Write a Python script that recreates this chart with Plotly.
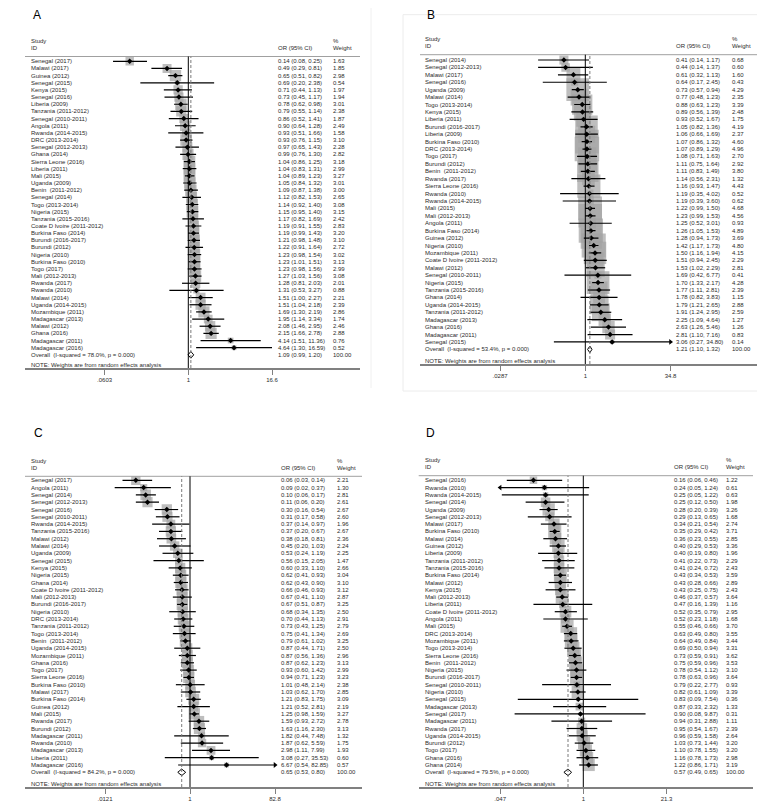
import numpy as np
import plotly.graph_objects as go

W, H = 765, 811
FONT = "Liberation Sans, Arial, Helvetica, sans-serif"
TXT = "#2b2b2b"
BOX = "#a3a3a3"

# ---------------- Panel A ----------------
studies_A = ["Senegal (2017)", "Malawi (2017)", "Guinea (2012)", "Senegal (2015)", "Kenya (2015)",
             "Senegal (2016)", "Liberia (2009)", "Tanzania (2011-2012)", "Senegal (2010-2011)", "Angola (2011)",
             "Rwanda (2014-2015)", "DRC (2013-2014)", "Senegal (2012-2013)", "Ghana (2014)", "Sierra Leone (2016)",
             "Liberia (2011)", "Mali (2015)", "Uganda (2009)", "Benin  (2011-2012)", "Senegal (2014)",
             "Togo (2013-2014)", "Nigeria (2015)", "Tanzania (2015-2016)", "Coate D Ivoire (2011-2012)", "Burkina Faso (2014)",
             "Burundi (2016-2017)", "Burundi (2012)", "Nigeria (2010)", "Burkina Faso (2010)", "Togo (2017)",
             "Mali (2012-2013)", "Rwanda (2017)", "Rwanda (2010)", "Malawi (2014)", "Uganda (2014-2015)",
             "Mozambique (2011)", "Madagascar (2013)", "Malawi (2012)", "Ghana (2016)", "Madagascar (2011)",
             "Madagascar (2016)"]
or_A = [0.14, 0.49, 0.65, 0.69, 0.71, 0.73, 0.78, 0.79, 0.86, 0.90, 0.93, 0.93, 0.97, 0.99, 1.04, 1.04, 1.04,
        1.05, 1.09, 1.12, 1.14, 1.15, 1.17, 1.19, 1.19, 1.21, 1.22, 1.23, 1.23, 1.23, 1.27, 1.28, 1.31, 1.51,
        1.51, 1.69, 1.95, 2.08, 2.15, 4.14, 4.64]
lo_A = [0.08, 0.29, 0.51, 0.20, 0.44, 0.45, 0.62, 0.55, 0.52, 0.64, 0.51, 0.76, 0.65, 0.76, 0.86, 0.83, 0.89,
        0.84, 0.87, 0.82, 0.92, 0.95, 0.82, 0.91, 0.99, 0.98, 0.91, 0.98, 1.01, 0.98, 1.03, 0.81, 0.53, 1.00,
        1.04, 1.30, 1.14, 1.46, 1.66, 1.51, 1.30]
hi_A = [0.25, 0.81, 0.82, 2.38, 1.13, 1.17, 0.98, 1.14, 1.41, 1.28, 1.66, 1.15, 1.43, 1.30, 1.25, 1.31, 1.23,
        1.32, 1.38, 1.53, 1.40, 1.40, 1.69, 1.55, 1.43, 1.48, 1.64, 1.54, 1.51, 1.56, 1.56, 2.03, 3.27, 2.27,
        2.18, 2.19, 3.34, 2.95, 2.78, 11.36, 16.59]
wt_A = [1.63, 1.85, 2.98, 0.54, 1.97, 1.94, 3.01, 2.38, 1.87, 2.49, 1.58, 3.10, 2.28, 2.82, 3.18, 2.99, 3.27,
        3.01, 3.00, 2.65, 3.08, 3.15, 2.42, 2.83, 3.20, 3.10, 2.72, 3.02, 3.13, 2.99, 3.08, 2.01, 0.88, 2.21,
        2.39, 2.86, 1.74, 2.46, 2.88, 0.76, 0.52]
overall_A = [1.09, 0.99, 1.20]
isq_A = "78.0%"
tickvals_A = [0.0603, 1, 16.6]
ticktext_A = [".0603", "1", "16.6"]

# ---------------- Panel B ----------------
studies_B = ["Senegal (2014)", "Senegal (2012-2013)", "Malawi (2017)", "Senegal (2016)", "Uganda (2009)",
             "Malawi (2014)", "Togo (2013-2014)", "Kenya (2015)", "Liberia (2011)", "Burundi (2016-2017)",
             "Liberia (2009)", "Burkina Faso (2010)", "DRC (2013-2014)", "Togo (2017)", "Burundi (2012)",
             "Benin  (2011-2012)", "Rwanda (2017)", "Sierra Leone (2016)", "Rwanda (2010)", "Rwanda (2014-2015)",
             "Mali (2015)", "Mali (2012-2013)", "Angola (2011)", "Burkina Faso (2014)", "Guinea (2012)",
             "Nigeria (2010)", "Mozambique (2011)", "Coate D Ivoire (2011-2012)", "Malawi (2012)", "Senegal (2010-2011)",
             "Nigeria (2015)", "Tanzania (2015-2016)", "Ghana (2014)", "Uganda (2014-2015)", "Tanzania (2011-2012)",
             "Madagascar (2013)", "Ghana (2016)", "Madagascar (2011)", "Senegal (2015)"]
or_B = [0.41, 0.44, 0.61, 0.64, 0.73, 0.77, 0.88, 0.89, 0.93, 1.05, 1.06, 1.07, 1.07, 1.08, 1.11, 1.11, 1.14,
        1.16, 1.19, 1.19, 1.22, 1.23, 1.25, 1.26, 1.28, 1.42, 1.50, 1.51, 1.53, 1.69, 1.70, 1.77, 1.78, 1.79,
        1.91, 2.25, 2.63, 2.81, 3.06]
lo_B = [0.14, 0.14, 0.32, 0.17, 0.57, 0.48, 0.63, 0.56, 0.52, 0.82, 0.66, 0.86, 0.89, 0.71, 0.75, 0.83, 0.56,
        0.93, 0.35, 0.39, 0.99, 0.99, 0.52, 1.05, 0.94, 1.17, 1.16, 0.94, 1.02, 0.42, 1.33, 1.11, 0.82, 1.21,
        1.24, 1.09, 1.26, 1.10, 0.27]
hi_B = [1.17, 1.37, 1.13, 2.45, 0.94, 1.23, 1.23, 1.39, 1.67, 1.36, 1.69, 1.32, 1.29, 1.63, 1.64, 1.49, 2.31,
        1.47, 4.02, 3.60, 1.50, 1.53, 3.01, 1.53, 1.73, 1.73, 1.94, 2.45, 2.29, 6.77, 2.17, 2.81, 3.83, 2.65,
        2.95, 4.64, 5.46, 7.16, 34.80]
wt_B = [0.68, 0.60, 1.60, 0.43, 4.29, 2.35, 3.39, 2.48, 1.75, 4.19, 2.37, 4.60, 4.96, 2.70, 2.92, 3.80, 1.32,
        4.43, 0.52, 0.62, 4.68, 4.56, 0.93, 4.89, 3.69, 4.80, 4.15, 2.29, 2.81, 0.41, 4.28, 2.39, 1.15, 2.88,
        2.59, 1.27, 1.26, 0.83, 0.14]
overall_B = [1.21, 1.10, 1.32]
isq_B = "53.4%"
tickvals_B = [0.0287, 1, 34.8]
ticktext_B = [".0287", "1", "34.8"]

# ---------------- Panel C ----------------
studies_C = ["Senegal (2017)", "Angola (2011)", "Senegal (2014)", "Senegal (2012-2013)", "Senegal (2016)",
             "Senegal (2010-2011)", "Rwanda (2014-2015)", "Tanzania (2015-2016)", "Malawi (2012)", "Malawi (2014)",
             "Uganda (2009)", "Senegal (2015)", "Kenya (2015)", "Nigeria (2015)", "Ghana (2014)",
             "Coate D Ivoire (2011-2012)", "Mali (2012-2013)", "Burundi (2016-2017)", "Nigeria (2010)", "DRC (2013-2014)",
             "Tanzania (2011-2012)", "Togo (2013-2014)", "Benin  (2011-2012)", "Uganda (2014-2015)", "Mozambique (2011)",
             "Ghana (2016)", "Togo (2017)", "Sierra Leone (2016)", "Burkina Faso (2010)", "Malawi (2017)",
             "Burkina Faso (2014)", "Guinea (2012)", "Mali (2015)", "Rwanda (2017)", "Burundi (2012)",
             "Madagascar (2011)", "Rwanda (2010)", "Madagascar (2013)", "Liberia (2011)", "Madagascar (2016)"]
or_C = [0.06, 0.09, 0.10, 0.11, 0.30, 0.31, 0.37, 0.37, 0.38, 0.45, 0.53, 0.56, 0.60, 0.62, 0.62, 0.66, 0.67,
        0.67, 0.68, 0.70, 0.73, 0.75, 0.79, 0.87, 0.87, 0.87, 0.93, 0.94, 1.01, 1.03, 1.21, 1.21, 1.25, 1.59,
        1.63, 1.82, 1.87, 2.98, 3.08, 6.67]
lo_C = [0.03, 0.02, 0.06, 0.06, 0.16, 0.17, 0.14, 0.20, 0.18, 0.20, 0.24, 0.15, 0.33, 0.41, 0.43, 0.46, 0.41,
        0.51, 0.34, 0.44, 0.43, 0.41, 0.61, 0.44, 0.56, 0.62, 0.60, 0.71, 0.48, 0.62, 0.83, 0.52, 0.98, 0.93,
        1.16, 0.44, 0.62, 1.11, 0.27, 0.54]
hi_C = [0.14, 0.37, 0.17, 0.20, 0.54, 0.58, 0.97, 0.67, 0.81, 1.03, 1.19, 2.05, 1.10, 0.93, 0.90, 0.93, 1.10,
        0.87, 1.35, 1.13, 1.25, 1.34, 1.02, 1.71, 1.36, 1.23, 1.42, 1.23, 2.14, 1.70, 1.75, 2.81, 1.59, 2.72,
        2.30, 7.48, 5.59, 7.99, 35.53, 82.85]
wt_C = [2.21, 1.30, 2.81, 2.61, 2.67, 2.60, 1.96, 2.67, 2.36, 2.24, 2.25, 1.47, 2.66, 3.04, 3.10, 3.12, 2.87,
        3.25, 2.50, 2.91, 2.79, 2.69, 3.25, 2.50, 2.96, 3.13, 2.99, 3.23, 2.38, 2.85, 3.09, 2.19, 3.27, 2.78,
        3.13, 1.32, 1.75, 1.93, 0.60, 0.57]
overall_C = [0.65, 0.53, 0.80]
isq_C = "84.2%"
tickvals_C = [0.0121, 1, 82.8]
ticktext_C = [".0121", "1", "82.8"]

# ---------------- Panel D ----------------
studies_D = ["Senegal (2016)", "Rwanda (2010)", "Rwanda (2014-2015)", "Senegal (2014)", "Uganda (2009)",
             "Senegal (2012-2013)", "Malawi (2017)", "Burkina Faso (2010)", "Malawi (2014)", "Guinea (2012)",
             "Liberia (2009)", "Tanzania (2011-2012)", "Tanzania (2015-2016)", "Burkina Faso (2014)", "Malawi (2012)",
             "Kenya (2015)", "Mali (2012-2013)", "Liberia (2011)", "Coate D Ivoire (2011-2012)", "Angola (2011)",
             "Mali (2015)", "DRC (2013-2014)", "Mozambique (2011)", "Togo (2013-2014)", "Sierra Leone (2016)",
             "Benin  (2011-2012)", "Nigeria (2015)", "Burundi (2016-2017)", "Senegal (2010-2011)", "Nigeria (2010)",
             "Senegal (2015)", "Madagascar (2013)", "Senegal (2017)", "Madagascar (2011)", "Rwanda (2017)",
             "Uganda (2014-2015)", "Burundi (2012)", "Togo (2017)", "Ghana (2016)", "Ghana (2014)"]
or_D = [0.16, 0.24, 0.25, 0.25, 0.28, 0.29, 0.34, 0.35, 0.36, 0.40, 0.40, 0.41, 0.41, 0.43, 0.43, 0.43, 0.46,
        0.47, 0.52, 0.52, 0.55, 0.63, 0.64, 0.69, 0.73, 0.75, 0.78, 0.78, 0.79, 0.82, 0.83, 0.87, 0.90, 0.94,
        0.95, 0.96, 1.03, 1.10, 1.16, 1.22]
lo_D = [0.06, 0.047, 0.05, 0.12, 0.20, 0.13, 0.21, 0.29, 0.23, 0.29, 0.19, 0.22, 0.24, 0.34, 0.28, 0.25, 0.37,
        0.16, 0.35, 0.23, 0.46, 0.49, 0.49, 0.50, 0.59, 0.59, 0.54, 0.63, 0.22, 0.61, 0.09, 0.33, 0.08, 0.31,
        0.54, 0.59, 0.73, 0.78, 0.78, 0.86]
hi_D = [0.46, 1.24, 1.22, 0.50, 0.39, 0.65, 0.54, 0.42, 0.55, 0.53, 0.80, 0.73, 0.72, 0.53, 0.66, 0.75, 0.57,
        1.39, 0.79, 1.18, 0.66, 0.80, 0.84, 0.94, 0.91, 0.96, 1.12, 0.96, 2.77, 1.09, 7.54, 2.32, 9.87, 2.88,
        1.67, 1.58, 1.44, 1.55, 1.73, 1.71]
wt_D = [1.22, 0.61, 0.63, 1.98, 3.26, 1.68, 2.74, 3.71, 2.85, 3.36, 1.96, 2.29, 2.43, 3.59, 2.89, 2.43, 3.64,
        1.16, 2.95, 1.68, 3.70, 3.55, 3.44, 3.31, 3.62, 3.53, 3.10, 3.64, 0.93, 3.39, 0.36, 1.33, 0.31, 1.11,
        2.39, 2.64, 3.20, 3.20, 2.98, 3.19]
overall_D = [0.57, 0.49, 0.65]
isq_D = "79.5%"
tickvals_D = [0.047, 1, 21.3]
ticktext_D = [".047", "1", "21.3"]

# ---------------- layout (pixel geometry per panel) ----------------
panels = [
    dict(letter="A", studies=studies_A, est=or_A, lo=lo_A, hi=hi_A, wt=wt_A, overall=overall_A, isq=isq_A,
         tv=tickvals_A, tt=ticktext_A, letter_xy=(24, 7.5), header_y=48.5, first_y=53.3, step=7.16,
         axis_y=360, xl=17, xr=352, px1=180.3, s=29.8, c_st=22, c_or=269, c_wt=324, k=6.6),
    dict(letter="B", studies=studies_B, est=or_B, lo=lo_B, hi=hi_B, wt=wt_B, overall=overall_B, isq=isq_B,
         tv=tickvals_B, tt=ticktext_B, letter_xy=(418, 7.5), header_y=46.7, first_y=52.0, step=7.42,
         axis_y=356, xl=412, xr=751.7, px1=577.3, s=24.0, c_st=416, c_or=667.3, c_wt=723.3, k=11.0),
    dict(letter="C", studies=studies_C, est=or_C, lo=lo_C, hi=hi_C, wt=wt_C, overall=overall_C, isq=isq_C,
         tv=tickvals_C, tt=ticktext_C, letter_xy=(25, 425), header_y=468.3, first_y=472.3, step=7.3,
         axis_y=779, xl=17, xr=354, px1=182.0, s=19.25, c_st=22, c_or=271.7, c_wt=327.7, k=6.3),
    dict(letter="D", studies=studies_D, est=or_D, lo=lo_D, hi=hi_D, wt=wt_D, overall=overall_D, isq=isq_D,
         tv=tickvals_D, tt=ticktext_D, letter_xy=(417, 425), header_y=467.7, first_y=472.3, step=7.3,
         axis_y=779, xl=410.7, xr=745, px1=575.3, s=27.2, c_st=416, c_or=665, c_wt=717.3, k=6.8),
]

fig = go.Figure()
annotations = []
shapes = []
layout_axes = {}
LN10 = np.log(10)


def px_to_paper_x(px):
    return px / W


def px_to_paper_y(py):
    return 1 - py / H


def txt(x, y, text, yref="paper", size=6, xanchor="left", color=TXT):
    return dict(x=x, y=y, xref="paper", yref=yref, text=text, showarrow=False, xanchor=xanchor,
                yanchor="middle", font=dict(family=FONT, size=size, color=color), borderpad=0)


for i, p in enumerate(panels, start=1):
    suf = "" if i == 1 else str(i)
    xa, ya = "x" + suf, "y" + suf
    n = len(p["studies"])
    rows = np.arange(n)
    est = np.array(p["est"])
    lo = np.array(p["lo"])
    hi = np.array(p["hi"])
    wt = np.array(p["wt"])
    tmin, tmax = p["tv"][0], p["tv"][-1]

    # gray weight boxes
    fig.add_trace(go.Scatter(x=est, y=rows, mode="markers", xaxis=xa, yaxis=ya, hoverinfo="skip",
                             marker=dict(symbol="square", size=p["k"] * np.sqrt(wt), color=BOX,
                                         line=dict(width=0)), showlegend=False))
    # CI lines (clipped at axis limits)
    lo_c = np.clip(lo, tmin, tmax)
    hi_c = np.clip(hi, tmin, tmax)
    xs, ys = [], []
    for r in range(n):
        xs += [lo_c[r], hi_c[r], None]
        ys += [r, r, None]
    fig.add_trace(go.Scatter(x=xs, y=ys, mode="lines", xaxis=xa, yaxis=ya, hoverinfo="skip",
                             line=dict(color="black", width=1.2), showlegend=False))
    # arrows where CI exceeds axis
    right = hi >= tmax - 1e-9
    left = lo <= tmin + 1e-9
    if right.any():
        fig.add_trace(go.Scatter(x=hi_c[right], y=rows[right], mode="markers", xaxis=xa, yaxis=ya,
                                 hoverinfo="skip", marker=dict(symbol="triangle-right", size=5, color="black"),
                                 showlegend=False))
    if left.any():
        fig.add_trace(go.Scatter(x=lo_c[left], y=rows[left], mode="markers", xaxis=xa, yaxis=ya,
                                 hoverinfo="skip", marker=dict(symbol="triangle-left", size=5, color="black"),
                                 showlegend=False))
    # point estimates
    fig.add_trace(go.Scatter(x=est, y=rows, mode="markers", xaxis=xa, yaxis=ya, hoverinfo="skip",
                             marker=dict(symbol="diamond", size=4.2, color="black"), showlegend=False))
    # overall diamond
    oe, ol, oh = p["overall"]
    hh = 3.3 / p["step"]
    fig.add_trace(go.Scatter(x=[ol, oe, oh, oe, ol], y=[n, n - hh, n, n + hh, n], mode="lines",
                             xaxis=xa, yaxis=ya, fill="toself", fillcolor="white", hoverinfo="skip",
                             line=dict(color="black", width=1), showlegend=False))

    # axes geometry
    r_top = (p["header_y"] - p["first_y"]) / p["step"]
    r_bot = (p["axis_y"] - p["first_y"]) / p["step"]
    layout_axes["xaxis" + suf] = dict(
        type="log", domain=[px_to_paper_x(p["xl"]), px_to_paper_x(p["xr"])],
        range=[(p["xl"] - p["px1"]) / p["s"] / LN10, (p["xr"] - p["px1"]) / p["s"] / LN10],
        anchor=ya, showgrid=False, zeroline=False, showline=True, linecolor="#808080", linewidth=1.5,
        ticks="outside", ticklen=5, tickwidth=1, tickcolor="#808080", tickvals=p["tv"], ticktext=p["tt"],
        tickfont=dict(family=FONT, size=6, color=TXT), fixedrange=True)
    layout_axes["yaxis" + suf] = dict(
        domain=[px_to_paper_y(p["axis_y"]), px_to_paper_y(p["header_y"])],
        range=[r_bot, r_top], anchor=xa, visible=False, fixedrange=True)

    # header line, null line, overall dashed line
    shapes.append(dict(type="line", xref=xa + " domain", yref=ya + " domain", x0=0, x1=1, y0=1, y1=1,
                       line=dict(color="#a0a0a0", width=1)))
    shapes.append(dict(type="line", xref=xa, yref=ya + " domain", x0=1, x1=1, y0=0, y1=1,
                       line=dict(color="black", width=1)))
    shapes.append(dict(type="line", xref=xa, yref=ya + " domain", x0=oe, x1=oe, y0=0, y1=1,
                       line=dict(color="#7a7a7a", width=1, dash="3px,2px")))

    # text
    hy = p["header_y"]
    lx, ly = p["letter_xy"]
    annotations.append(txt(px_to_paper_x(lx), px_to_paper_y(ly), p["letter"], size=12, color="black"))
    annotations.append(txt(px_to_paper_x(p["c_st"]), px_to_paper_y(hy - 15.5), "Study"))
    annotations.append(txt(px_to_paper_x(p["c_st"]), px_to_paper_y(hy - 8.5), "ID"))
    annotations.append(txt(px_to_paper_x(p["c_or"]), px_to_paper_y(hy - 8.5), "OR (95% CI)"))
    annotations.append(txt(px_to_paper_x(p["c_wt"]), px_to_paper_y(hy - 15.5), "%"))
    annotations.append(txt(px_to_paper_x(p["c_wt"]), px_to_paper_y(hy - 8.5), "Weight"))
    for r in range(n):
        annotations.append(txt(px_to_paper_x(p["c_st"]), r, p["studies"][r], yref=ya))
        annotations.append(txt(px_to_paper_x(p["c_or"]), r,
                               f"{est[r]:.2f} ({lo[r]:.2f}, {hi[r]:.2f})", yref=ya))
        annotations.append(txt(px_to_paper_x(p["c_wt"]), r, f"{wt[r]:.2f}", yref=ya))
    annotations.append(txt(px_to_paper_x(p["c_st"]), n,
                           f"Overall  (I-squared = {p['isq']}, p = 0.000)", yref=ya))
    annotations.append(txt(px_to_paper_x(p["c_or"]), n, f"{oe:.2f} ({ol:.2f}, {oh:.2f})", yref=ya))
    annotations.append(txt(px_to_paper_x(p["c_wt"]), n, f"{100:.2f}", yref=ya))
    annotations.append(txt(px_to_paper_x(p["c_st"]), px_to_paper_y(p["axis_y"] - 3.2),
                           "NOTE: Weights are from random effects analysis"))

# faint frames around the top panels
shapes.append(dict(type="rect", xref="paper", yref="paper", x0=395 / W, x1=764 / W,
                   y0=px_to_paper_y(383), y1=px_to_paper_y(6.7), line=dict(color="#ececec", width=1)))
shapes.append(dict(type="line", xref="paper", yref="paper", x0=363 / W, x1=363 / W,
                   y0=px_to_paper_y(380), y1=1, line=dict(color="#f0f0f0", width=1)))

fig.update_layout(width=W, height=H, margin=dict(l=0, r=0, t=0, b=0), paper_bgcolor="white",
                  plot_bgcolor="white", showlegend=False, annotations=annotations, shapes=shapes,
                  font=dict(family=FONT, size=6, color=TXT), **layout_axes)

fig.write_html("out.html")
